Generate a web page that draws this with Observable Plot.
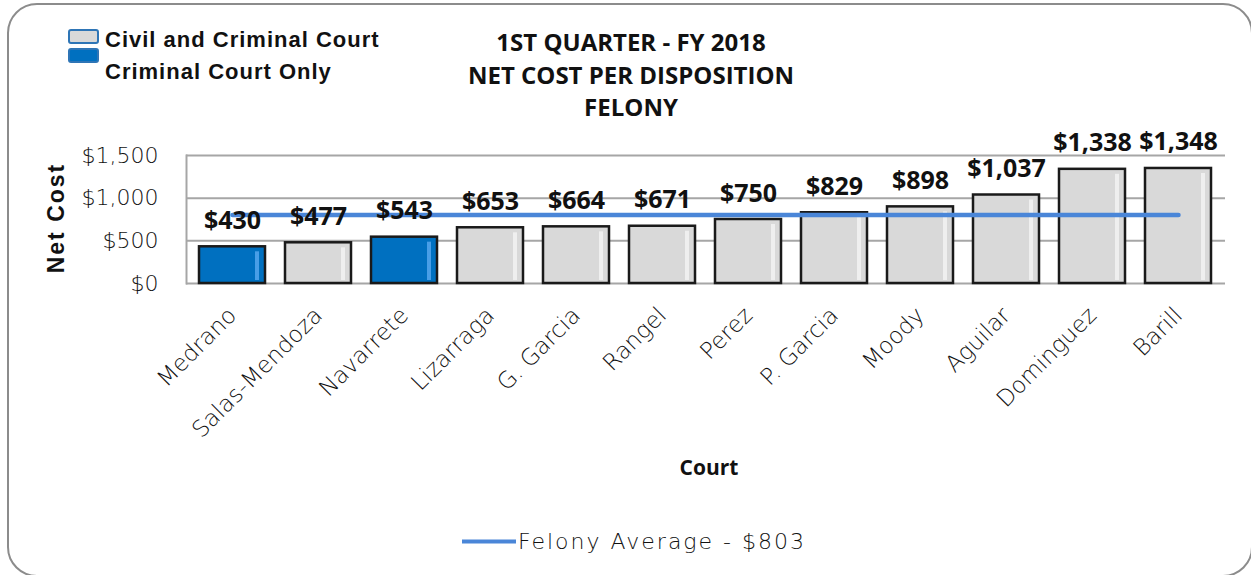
<!DOCTYPE html>
<html>
<head>
<meta charset="utf-8">
<script src="https://cdn.jsdelivr.net/npm/d3@7"></script>
<script src="https://cdn.jsdelivr.net/npm/@observablehq/plot@0.6"></script>
<style>
  html, body { margin: 0; padding: 0; background: #fff; }
  #wrap { position: relative; width: 1251px; height: 575px; overflow: hidden; background: #fff; }
  #frame { position: absolute; left: 7px; top: 3px; width: 1246px; height: 574px; border: 2px solid #8c8c8c; border-radius: 30px; box-sizing: border-box; }
  #chart { position: absolute; left: 0; top: 0; }
  .abs { position: absolute; white-space: nowrap; }
  #title { left: 431px; top: 26px; width: 400px; text-align: center; font-family: "Open Sans", sans-serif; font-weight: 700; font-size: 24px; line-height: 32.5px; color: #111; }
  .leg { font-family: "Liberation Sans", Arial, sans-serif; font-weight: 700; font-size: 22px; letter-spacing: 1px; color: #111; left: 105px; }
  .sw { position: absolute; left: 68px; width: 27px; height: 11px; border: 2px solid #2e75b6; border-radius: 3px; }
  #ylab { left: 56px; top: 218px; transform: translate(-50%, -50%) rotate(-90deg); font-family: "Liberation Sans", Arial, sans-serif; font-weight: 700; font-size: 23px; letter-spacing: 2px; color: #111; }
  #xlab { left: 709px; top: 467px; transform: translate(-50%, -50%); font-family: "Open Sans", sans-serif; font-weight: 700; font-size: 21px; color: #111; }
  #avgleg { left: 462px; top: 541px; transform: translateY(-50%); display: flex; align-items: center; font-family: "DejaVu Sans", sans-serif; font-weight: 300; font-size: 22px; letter-spacing: 2px; color: #111; }
  #avgleg .ln { width: 54px; height: 4px; background: #4a86d8; margin-right: 2px; }
</style>
</head>
<body>
<div id="wrap">
  <div id="frame"></div>
  <div id="chart"></div>
  <div id="title" class="abs">1ST QUARTER - FY 2018<br>NET COST PER DISPOSITION<br>FELONY</div>
  <div class="sw" style="top:29px; background:#d9d9d9;"></div>
  <div class="sw" style="top:48px; background:#0070c0;"></div>
  <div class="abs leg" style="top:27px;">Civil and Criminal Court</div>
  <div class="abs leg" style="top:59px;">Criminal Court Only</div>
  <div id="ylab" class="abs">Net Cost</div>
  <div id="xlab" class="abs">Court</div>
  <div id="avgleg" class="abs"><div class="ln"></div><span>Felony Average - $803</span></div>
</div>
<script>
const courts = ["Medrano","Salas-Mendoza","Navarrete","Lizarraga","G. Garcia","Rangel","Perez","P. Garcia","Moody","Aguilar","Dominguez","Barill"];
const costs = [430,477,543,653,664,671,750,829,898,1037,1338,1348];
const courtTypes = ["Criminal Court Only","Civil and Criminal Court","Criminal Court Only","Civil and Criminal Court","Civil and Criminal Court","Civil and Criminal Court","Civil and Criminal Court","Civil and Criminal Court","Civil and Criminal Court","Civil and Criminal Court","Civil and Criminal Court","Civil and Criminal Court"];
const felonyAverage = 803;
const yTicks = [0, 500, 1000, 1500];

const typeColors = {"Criminal Court Only": "#0070c0", "Civil and Criminal Court": "#d9d9d9"};
const typeHighlights = {"Criminal Court Only": "#5aaaf0", "Civil and Criminal Court": "#f4f4f4"};

const data = courts.map((c, i) => ({court: c, cost: costs[i], type: courtTypes[i]}));
const avgData = courts.map(c => ({court: c, avg: felonyAverage}));
const money = d => "$" + d3.format(",")(d);

const chart = Plot.plot({
  width: 1251,
  height: 500,
  marginTop: 155,
  marginBottom: 217,
  marginLeft: 186,
  marginRight: 26,
  style: {background: "transparent", overflow: "visible"},
  x: {domain: courts, paddingInner: 0.23, paddingOuter: 0.12, label: null},
  y: {domain: [0, 1500], label: null},
  marks: [
    Plot.ruleY(yTicks, {stroke: "#a6a6a6", strokeWidth: 2}),
    Plot.frame({anchor: "left", stroke: "#a6a6a6", strokeWidth: 2}),
    Plot.barY(data, {x: "court", y: "cost", fill: d => typeColors[d.type], stroke: "#1a1a1a", strokeWidth: 2.5}),
    Plot.barY(data, {x: "court", y: "cost", fill: d => typeHighlights[d.type], insetLeft: 56, insetRight: 6, insetTop: 5, insetBottom: 3, opacity: 0.8}),
    Plot.line(avgData, {x: "court", y: "avg", stroke: "#4a86d8", strokeWidth: 4.5, strokeLinecap: "round"}),
    Plot.text(data, {x: "court", y: "cost", text: d => money(d.cost), dy: -18, lineAnchor: "bottom", fontFamily: "Open Sans", fontWeight: 700, fontSize: 25, fill: "#111"}),
    Plot.axisY({ticks: yTicks, tickFormat: money, tickSize: 0, tickPadding: 28, fontFamily: "DejaVu Sans", fontWeight: 300, fontSize: 22, fill: "#111", label: null}),
    Plot.axisX({tickRotate: -45, tickSize: 0, tickPadding: 28, fontFamily: "DejaVu Sans", fontWeight: 300, fontSize: 23, fill: "#111", label: null})
  ]
});
document.getElementById("chart").appendChild(chart);
</script>
</body>
</html>
